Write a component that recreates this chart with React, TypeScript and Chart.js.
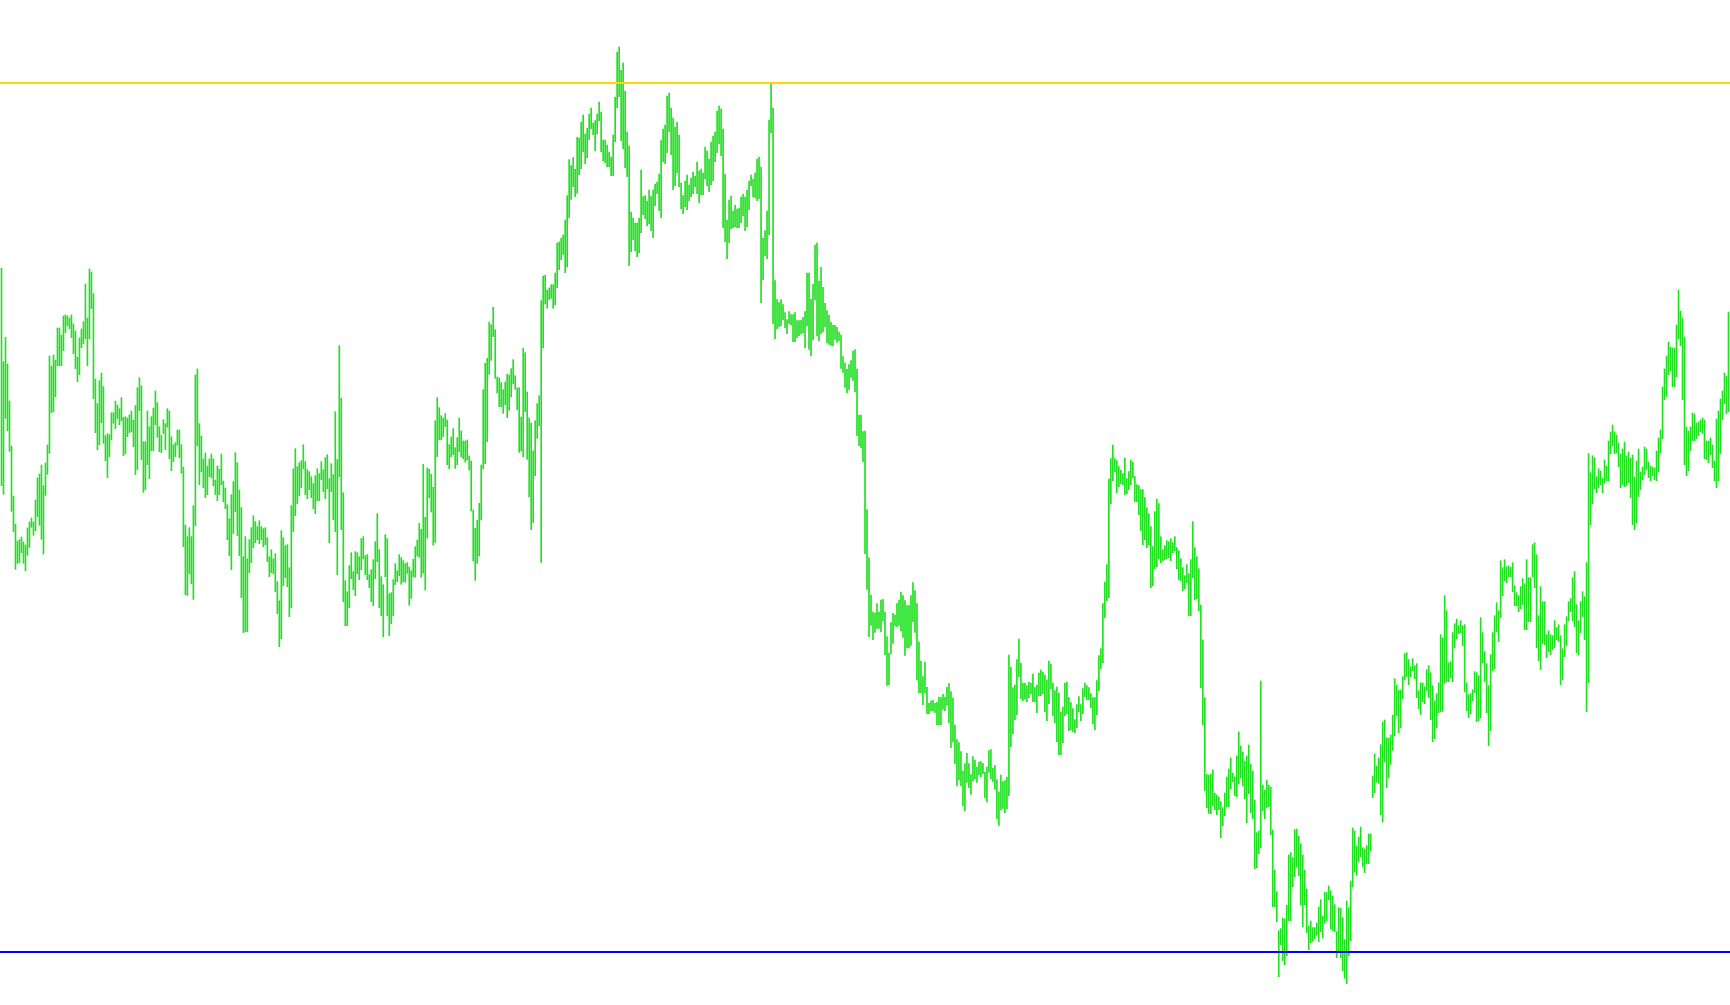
import React, { useEffect, useRef } from "react";
import { Chart, registerables } from "chart.js";

Chart.register(...registerables);

// Bar highs (price units), one per bar, left to right
const highs: number[] = [
  2195,1915,1988,1908,1797,1662,1512,1428,1377,1381,
  1389,1374,1365,1416,1434,1446,1434,1500,1566,1578,
  1605,1543,1611,1665,1932,1902,1935,1920,2016,2016,
  1995,2052,2055,2052,2046,2055,2028,2007,1929,1986,
  2013,2035,2148,2046,2193,2184,2119,1863,1789,1858,
  1881,1840,1693,1699,1696,1762,1762,1797,1785,1774,
  1807,1748,1750,1746,1755,1767,1740,1783,1837,1867,
  1843,1675,1675,1767,1720,1750,1776,1827,1792,1720,
  1695,1741,1729,1774,1767,1690,1666,1672,1710,1710,
  1666,1599,1425,1390,1417,1390,1483,1875,1893,1729,
  1692,1623,1641,1602,1623,1638,1623,1560,1602,1593,
  1638,1557,1536,1486,1444,1516,1555,1642,1612,1530,
  1477,1330,1390,1324,1381,1417,1453,1435,1420,1438,
  1420,1414,1417,1387,1330,1351,1324,1339,1255,1198,
  1408,1387,1363,1366,1297,1483,1594,1654,1600,1612,
  1618,1666,1615,1591,1585,1570,1549,1573,1594,1579,
  1615,1591,1627,1636,1564,1609,1576,1765,1621,1963,
  1806,1522,1258,1225,1303,1342,1285,1345,1342,1330,
  1384,1390,1333,1336,1276,1291,1321,1375,1459,1351,
  1270,1246,1396,1384,1219,1222,1261,1309,1288,1336,
  1327,1318,1309,1312,1299,1288,1322,1360,1380,1430,
  1412,1607,1448,1596,1592,1577,1538,1738,1807,1777,
  1753,1745,1759,1740,1666,1689,1714,1657,1687,1746,
  1707,1677,1677,1680,1632,1617,1470,1415,1439,1490,
  1605,1831,1910,1925,2033,2026,2078,2011,1869,1866,
  1852,1831,1854,1878,1875,1894,1921,1873,1836,1837,
  1749,1955,1942,1824,1746,1731,1647,1738,1789,1813,
  2098,2172,2174,2129,2136,2146,2146,2181,2271,2274,
  2285,2295,2340,2413,2521,2503,2527,2492,2588,2585,
  2634,2655,2598,2616,2658,2676,2631,2638,2658,2694,
  2664,2580,2580,2565,2544,2529,2595,2709,2844,2859,
  2790,2811,2727,2604,2562,2364,2346,2331,2331,2346,
  2490,2410,2413,2397,2430,2412,2430,2448,2454,2478,
  2578,2613,2625,2712,2721,2676,2646,2619,2634,2595,
  2451,2413,2457,2475,2445,2466,2484,2472,2514,2487,
  2493,2481,2559,2547,2523,2574,2592,2604,2667,2682,
  2673,2613,2478,2340,2400,2412,2367,2385,2373,2376,
  2409,2418,2409,2430,2457,2475,2463,2481,2523,2529,
  2499,2286,2308,2367,2640,2749,2676,2158,2101,2092,
  2101,2086,2062,2041,2065,2056,2056,2062,2038,2038,
  2039,2048,2065,2181,2181,2102,2147,2265,2271,2157,
  2198,2138,2090,2068,2054,2033,2024,2024,2018,2004,
  1995,1930,1911,1892,1906,1918,1947,1951,1893,1755,
  1755,1705,1707,1471,1327,1215,1164,1161,1189,1164,
  1200,1202,1164,1090,1041,1132,1160,1155,1189,1200,
  1224,1213,1198,1183,1183,1213,1252,1228,1189,1074,
  1017,970,1013,938,890,897,900,890,893,909,
  907,917,909,938,949,925,906,825,781,772,
  745,687,709,740,709,676,730,720,699,713,
  715,709,683,699,748,751,695,704,661,624,
  675,655,658,669,1035,999,937,945,1021,1083,
  1011,951,951,943,954,951,978,937,945,981,
  990,984,975,960,1017,1008,951,928,939,921,
  864,879,951,954,907,892,874,841,886,910,
  886,934,951,943,937,919,907,907,958,1033,
  1054,1189,1254,1306,1563,1624,1665,1624,1618,1600,
  1590,1579,1626,1564,1585,1620,1614,1570,1546,1543,
  1531,1531,1507,1477,1459,1420,1360,1465,1503,1489,
  1390,1351,1363,1378,1375,1384,1372,1390,1357,1348,
  1324,1297,1273,1306,1279,1321,1435,1357,1330,1294,
  1185,1080,907,677,675,677,690,620,615,609,
  595,577,621,669,693,726,681,669,732,804,
  762,744,717,732,765,708,687,600,502,507,
  957,645,630,660,645,639,510,390,325,208,
  214,246,243,284,435,442,427,511,513,492,
  469,435,390,333,222,237,217,217,231,279,
  301,252,323,322,342,328,312,286,205,277,
  275,247,181,297,277,357,516,507,462,489,
  519,457,453,463,498,498,672,738,702,726,
  766,834,840,787,785,795,855,964,945,929,
  930,970,1039,1042,1021,1000,1024,1003,1009,928,
  952,951,940,991,1003,982,943,898,919,952,
  1096,1087,1213,1168,1012,1015,1102,1129,1143,1123,
  1138,1123,1126,952,916,919,931,985,982,973,
  1147,1102,1045,1009,943,1036,1102,1153,1192,1168,
  1318,1297,1321,1300,1303,1298,1312,1243,1222,1213,
  1240,1264,1249,1321,1267,1267,1366,1372,1336,1153,
  1240,1195,1195,1096,1108,1096,1093,1138,1117,1126,
  1093,1054,1126,1150,1195,1204,1267,1285,1186,1138,
  1195,1225,1210,1312,1639,1582,1633,1627,1570,1594,
  1587,1566,1620,1602,1677,1704,1725,1704,1695,1671,
  1638,1653,1674,1632,1644,1626,1635,1569,1617,1653,
  1584,1599,1659,1653,1614,1602,1599,1596,1647,1686,
  1710,1839,1893,1932,1974,1959,1956,1956,2025,2130,
  2067,2046,1989,1719,1707,1719,1761,1758,1731,1734,
  1740,1746,1740,1677,1677,1686,1665,1617,1743,1767,
  1803,1827,1881,1872,2064,
];

// Bar lows (price units), one per bar, left to right
const lows: number[] = [
  1543,1517,1745,1708,1646,1466,1405,1292,1310,1312,
  1342,1310,1288,1334,1358,1418,1394,1408,1450,1424,
  1382,1338,1514,1577,1640,1762,1765,1810,1903,1903,
  1903,1948,2002,2022,2014,1987,1939,1894,1855,1876,
  1957,1969,1984,1903,1984,2074,1804,1702,1651,1666,
  1732,1670,1618,1567,1630,1681,1730,1714,1744,1726,
  1738,1633,1639,1690,1702,1705,1660,1576,1591,1768,
  1621,1523,1531,1606,1564,1648,1648,1726,1688,1645,
  1642,1699,1651,1718,1624,1588,1615,1630,1664,1627,
  1580,1360,1216,1213,1279,1249,1202,1423,1663,1546,
  1585,1537,1507,1516,1570,1567,1543,1516,1498,1516,
  1546,1495,1474,1381,1333,1291,1399,1465,1393,1333,
  1207,1102,1105,1105,1282,1312,1357,1372,1381,1369,
  1381,1360,1366,1315,1270,1282,1279,1225,1159,1060,
  1084,1243,1267,1240,1150,1177,1405,1453,1489,1513,
  1537,1594,1516,1504,1531,1507,1474,1459,1498,1498,
  1561,1525,1504,1534,1372,1525,1441,1405,1276,1570,
  1411,1195,1123,1123,1177,1264,1231,1213,1279,1261,
  1291,1324,1276,1261,1237,1195,1183,1264,1315,1177,
  1153,1090,1270,1153,1093,1129,1153,1246,1255,1273,
  1247,1255,1253,1280,1184,1205,1269,1268,1332,1328,
  1268,1280,1230,1386,1506,1464,1364,1373,1630,1681,
  1681,1690,1720,1606,1594,1629,1636,1595,1606,1645,
  1629,1624,1614,1620,1590,1467,1317,1259,1310,1332,
  1440,1594,1609,1675,1877,1919,1990,1865,1821,1780,
  1780,1760,1786,1747,1769,1810,1849,1832,1771,1643,
  1647,1629,1765,1622,1509,1411,1432,1573,1685,1723,
  1313,1956,2088,2075,2101,2105,2075,2085,2137,2191,
  2221,2237,2182,2199,2347,2402,2440,2410,2420,2476,
  2494,2545,2509,2527,2581,2614,2596,2548,2598,2638,
  2545,2518,2512,2500,2500,2473,2473,2575,2677,2710,
  2578,2554,2497,2470,2203,2245,2281,2248,2230,2242,
  2302,2356,2344,2323,2329,2308,2287,2383,2419,2368,
  2347,2515,2509,2542,2605,2536,2431,2443,2482,2440,
  2374,2359,2380,2371,2398,2410,2419,2440,2419,2392,
  2416,2416,2464,2443,2425,2446,2458,2515,2542,2569,
  2533,2317,2275,2224,2272,2314,2317,2320,2317,2317,
  2332,2353,2308,2320,2371,2443,2410,2407,2398,2404,
  2092,2161,2233,2224,2296,2602,2029,1984,2014,2020,
  2023,2041,2017,1999,2029,2026,1975,1975,1987,1993,
  1998,2001,1956,2022,1952,1932,1980,2100,1992,1977,
  1999,2004,2019,1971,1967,1964,1962,1982,1973,1977,
  1895,1883,1838,1821,1831,1868,1859,1825,1693,1663,
  1657,1615,1339,1232,1090,1124,1081,1103,1115,1115,
  1105,1138,1036,944,946,1039,1070,1122,1120,1124,
  1107,1088,1034,1057,1056,1064,1135,1103,960,922,
  922,886,922,859,859,868,867,863,826,826,
  826,872,868,884,832,757,774,709,642,660,
  642,582,567,653,637,617,657,664,653,676,
  669,679,607,594,683,664,655,632,544,524,
  570,575,562,574,613,760,799,841,856,970,
  904,898,904,895,907,919,895,895,862,913,
  913,919,865,838,889,934,853,832,775,736,
  736,772,853,859,808,811,805,802,817,865,
  838,859,910,901,901,877,829,811,856,928,
  994,1012,1147,1198,1207,1489,1558,1585,1522,1540,
  1549,1546,1516,1519,1531,1546,1567,1495,1495,1456,
  1408,1366,1381,1357,1366,1237,1243,1294,1300,1324,
  1312,1318,1321,1324,1327,1318,1342,1348,1294,1261,
  1258,1228,1234,1252,1153,1153,1267,1201,1204,1168,
  937,825,628,577,560,559,583,571,556,571,
  487,523,553,579,580,633,655,613,610,648,
  666,642,604,532,619,562,544,394,397,439,
  457,568,544,577,580,496,280,280,235,70,
  166,118,106,133,238,238,340,370,398,373,
  285,220,286,202,151,172,176,184,194,175,
  205,186,230,237,301,213,208,205,127,144,
  127,88,65,49,132,177,339,384,374,415,
  429,399,382,409,409,447,607,622,654,650,
  556,534,714,637,666,707,749,792,852,802,
  817,904,961,970,946,970,988,964,907,874,
  856,895,889,928,907,841,775,784,817,862,
  865,866,950,955,955,967,955,1057,1084,1099,
  1102,1063,925,868,847,859,898,922,835,838,
  847,1012,955,862,763,808,988,994,1105,1075,
  1147,1213,1258,1252,1270,1270,1225,1183,1183,1165,
  1174,1186,1111,1111,1135,1135,1270,1237,1057,1018,
  991,1069,1066,1027,1045,1036,1051,1057,1081,1075,
  946,961,1030,1063,1138,1165,1138,1120,1042,1036,
  1102,1150,1081,865,952,1426,1489,1534,1522,1537,
  1546,1522,1552,1558,1558,1639,1663,1639,1642,1600,
  1537,1546,1540,1543,1552,1507,1426,1411,1432,1510,
  1531,1561,1576,1591,1567,1558,1573,1561,1558,1585,
  1642,1684,1801,1810,1876,1888,1840,1840,1870,1984,
  1963,1801,1606,1573,1588,1648,1678,1678,1684,1693,
  1705,1699,1624,1621,1612,1636,1597,1558,1537,1558,
  1639,1741,1789,1759,1765,
];

// Horizontal price levels
const upperLevel = 2751;
const lowerLevel = 144;

// Visible price range
const priceMin = -15;
const priceMax = 3000;

export default function App() {
  const canvasRef = useRef<HTMLCanvasElement | null>(null);

  useEffect(() => {
    document.body.style.margin = "0";
    document.body.style.background = "#ffffff";
    const canvas = canvasRef.current;
    if (!canvas) return;
    const n = Math.min(highs.length, lows.length);
    const xMin = -0.75;
    const xMax = n - 0.25;
    const bars = [] as { x: number; y: [number, number] }[];
    for (let i = 0; i < n; i++) bars.push({ x: i, y: [lows[i], highs[i]] });

    const chart = new Chart(canvas, {
      type: "bar",
      data: {
        datasets: [
          {
            type: "line",
            data: [
              { x: xMin, y: upperLevel },
              { x: xMax, y: upperLevel },
            ],
            borderColor: "#ffd700",
            borderWidth: 2,
            pointRadius: 0,
            fill: false,
            order: 0,
          } as any,
          {
            type: "line",
            data: [
              { x: xMin, y: lowerLevel },
              { x: xMax, y: lowerLevel },
            ],
            borderColor: "#0000ff",
            borderWidth: 2,
            pointRadius: 0,
            fill: false,
            order: 0,
          } as any,
          {
            type: "bar",
            data: bars as any,
            backgroundColor: "#20e020",
            borderWidth: 0,
            barThickness: 1,
            order: 1,
          } as any,
        ],
      },
      options: {
        animation: false,
        responsive: false,
        maintainAspectRatio: false,
        events: [],
        layout: { padding: 0 },
        plugins: {
          legend: { display: false },
          tooltip: { enabled: false },
        },
        scales: {
          x: {
            type: "linear",
            min: xMin,
            max: xMax,
            offset: false,
            display: false,
            grid: { offset: false },
          },
          y: { type: "linear", min: priceMin, max: priceMax, display: false },
        },
      },
    });
    return () => chart.destroy();
  }, []);

  return (
    <div
      style={{
        position: "fixed",
        left: 0,
        top: 0,
        width: 1730,
        height: 1005,
        background: "#ffffff",
      }}
    >
      <canvas
        ref={canvasRef}
        width={1730}
        height={1005}
        style={{ display: "block", width: 1730, height: 1005 }}
      />
    </div>
  );
}
